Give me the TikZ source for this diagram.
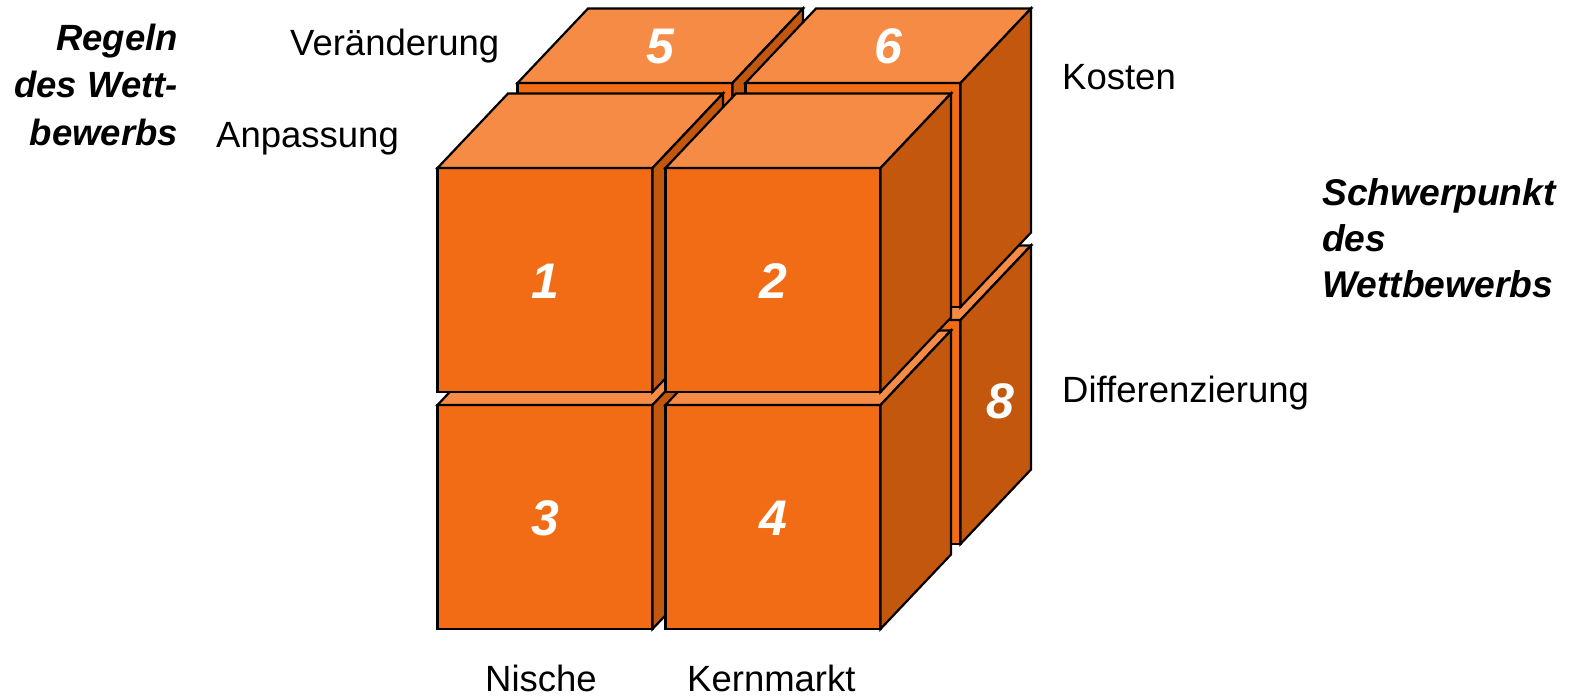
\documentclass[tikz,border=0pt]{standalone}
\usepackage{fontspec}
\setmainfont{Liberation Sans}
\definecolor{cfront}{RGB}{242,108,22}
\definecolor{ctop}{RGB}{246,139,69}
\definecolor{cside}{RGB}{196,87,14}
\tikzset{
  face/.style={draw=black, line width=2.2pt, line join=miter},
  lab/.style={inner sep=0pt, font=\fontsize{36.5}{44}\selectfont},
  blab/.style={inner sep=0pt, font=\fontsize{36.5}{44}\selectfont\bfseries\itshape},
  blabr/.style={inner sep=0pt, font=\fontsize{37.2}{44}\selectfont\bfseries\itshape},
  num/.style={inner sep=0pt, text=white, font=\fontsize{50}{60}\selectfont\bfseries\itshape},
}
\newcommand\mycube[2]{%
  \filldraw[fill=cfront, face] (#1,#2) rectangle ++(215,224);
  \filldraw[fill=ctop, face] (#1,#2) -- ++(70.5,-74.5) -- ++(215,0) -- ++(-70.5,74.5) -- cycle;
  \filldraw[fill=cside, face] (#1+215,#2) -- ++(70.5,-74.5) -- ++(0,224) -- ++(-70.5,74.5) -- cycle;
}
\begin{document}
\begin{tikzpicture}[x=1pt, y=-1pt]
\useasboundingbox (0,0) rectangle (1572,697);
% back row
\mycube{517.5}{320}
\mycube{745.5}{320}
\mycube{517.5}{83}
\mycube{745.5}{83}
% front row
\mycube{437.5}{405}
\mycube{665.5}{405}
\mycube{437.5}{168}
\mycube{665.5}{168}
% numbers
\node[num] (n1) at (545,281) {1};
\node[num] (n2) at (773,281) {2};
\node[num] (n3) at (545,518) {3};
\node[num] (n4) at (773,518) {4};
\node[num] (n5) at (660.5,46.5) {5};
\node[num] (n6) at (888.5,46.5) {6};
\node[num] (n8) at (1000,401) {8};
% labels
\node[blab, anchor=base east] (r1) at (178,50) {Regeln};
\node[blab, anchor=base east] (r2) at (178,97) {des Wett-};
\node[blab, anchor=base east] (r3) at (178,145) {bewerbs};
\node[lab, anchor=base west] (ver) at (290,55) {Veränderung};
\node[lab, anchor=base west] (anp) at (216,147) {Anpassung};
\node[lab, anchor=base west] (kos) at (1062,89) {Kosten};
\node[lab, anchor=base west] (dif) at (1062,402) {Differenzierung};
\node[blabr, anchor=base west] (s1) at (1322,205) {Schwerpunkt};
\node[blabr, anchor=base west] (s2) at (1322,251) {des};
\node[blabr, anchor=base west] (s3) at (1322,297) {Wettbewerbs};
\node[lab, anchor=base west] (nis) at (485,691.5) {Nische};
\node[lab, anchor=base west] (ker) at (687,691.5) {Kernmarkt};
\end{tikzpicture}
\end{document}
